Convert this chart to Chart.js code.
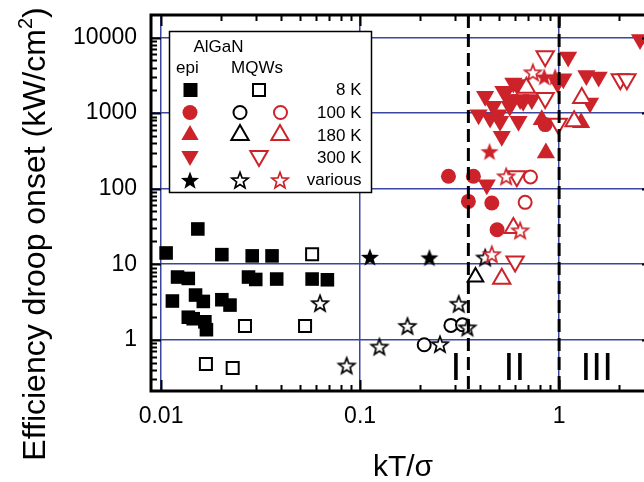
<!DOCTYPE html>
<html>
<head>
<meta charset="utf-8">
<script src="https://cdn.jsdelivr.net/npm/chart.js"></script>
<style>
  html, body { margin: 0; padding: 0; background: #fff; }
  canvas { display: block; }
</style>
</head>
<body>
<canvas id="droopChart" width="644" height="482"></canvas>
<script>
// Axis limits (kT/sigma vs droop onset)
const X_MIN = 0.0089, X_MAX = 2.67;
const Y_MIN = 0.21, Y_MAX = 19900;
const xTickValues = [0.01, 0.1, 1];
const yTickValues = [1, 10, 100, 1000, 10000];

// Regime boundaries (dashed) and the I / II / III labels
const boundaryX = [0.35, 1];
const regionLabels = ['I', 'II', 'III'];
const regionLabelX = [0.303, 0.596, 1.545];
const regionLabelY = 0.295;

// epi, 8 K (black filled squares)
const epi8kX = [0.0153, 0.0106, 0.0202, 0.0287, 0.0361, 0.0121, 0.0137, 0.0275, 0.0299, 0.0381, 0.0574, 0.0685, 0.0149, 0.0114, 0.0163, 0.0202, 0.0222, 0.0137, 0.0145, 0.0166, 0.0169];
const epi8kY = [29.3, 14.1, 13.4, 12.9, 12.9, 6.77, 6.49, 6.77, 6.29, 6.37, 6.37, 6.23, 3.91, 3.26, 3.22, 3.39, 2.88, 1.99, 1.90, 1.73, 1.36];
// MQWs, 8 K (black open squares)
const mqw8kX = [0.0574, 0.0264, 0.0529, 0.0168, 0.0229];
const mqw8kY = [13.6, 1.52, 1.52, 0.477, 0.422];
// MQWs 100 K / 180 K, black column
const mqw100kBlackX = [0.210, 0.286, 0.327];
const mqw100kBlackY = [0.86, 1.55, 1.58];
const mqw180kBlackX = [0.380];
const mqw180kBlackY = [6.77];
// various temperatures, black
const mqwVariousBlackX = [0.0629, 0.0856, 0.125, 0.173, 0.252, 0.313, 0.346, 0.425];
const mqwVariousBlackY = [3.06, 0.457, 0.815, 1.53, 0.877, 3.0, 1.46, 12.3];
const epiVariousBlackX = [0.112, 0.223];
const epiVariousBlackY = [12.5, 12.3];

// red series
const epi100kX = [0.278, 0.371, 0.350, 0.459, 0.488, 0.851];
const epi100kY = [146, 146, 67.9, 64.6, 28.6, 705];
const mqw100kRedX = [0.718, 0.675];
const mqw100kRedY = [143, 65.9];
const epi180kX = [0.818, 1.29, 0.858];
const epi180kY = [820, 747, 297];
const mqw180kRedX = [0.685, 1.30, 1.19, 0.589, 0.515];
const mqw180kRedY = [2160, 1590, 779, 30.2, 6.43];
const epi300kX = [2.55, 1.11, 1.05, 0.98, 1.37, 1.58, 1.43, 0.589, 0.613, 0.525, 0.536, 0.425, 0.565, 0.637, 0.729, 0.660, 0.467, 0.565, 0.394, 0.450, 0.495, 0.505, 0.625, 0.515, 0.433];
const epi300kY = [9400, 5550, 2860, 2500, 3140, 3010, 1365, 2510, 2385, 1945, 1853, 1670, 1510, 1510, 1510, 1435, 1230, 1230, 955, 863, 955, 779, 779, 493, 113];
const mqw300kRedX = [0.851, 0.851, 2.03, 2.19, 0.99, 0.613, 0.601];
const mqw300kRedY = [5650, 1590, 2800, 2800, 726, 146, 10.9];
const epiVariousRedX = [0.447, 0.842, 0.955];
const epiVariousRedY = [312, 3040, 3040];
const mqwVariousRedX = [0.738, 0.459, 0.637, 0.542];
const mqwVariousRedY = [3470, 13.6, 28.1, 146];

const RED = '#cc2229';
const BLACK = '#000000';
const GRID_BLUE = '#3b46a0';
const FONT = '"Liberation Sans", Arial, Helvetica, sans-serif';

function pts(xs, ys) {
  return xs.map((x, i) => ({ x: x, y: ys[i] }));
}

// five-pointed star as a small canvas (Chart.js 'star' is an asterisk)
function starImage(fill, stroke, R) {
  const size = 2 * Math.ceil(R + 2);
  const c = document.createElement('canvas');
  c.width = size;
  c.height = size;
  const g = c.getContext('2d');
  g.translate(size / 2, size / 2 + R * 0.1);
  g.beginPath();
  for (let i = 0; i < 10; i++) {
    const r = i % 2 ? R * 0.42 : R;
    const a = -Math.PI / 2 + i * Math.PI / 5;
    g.lineTo(r * Math.cos(a), r * Math.sin(a));
  }
  g.closePath();
  g.fillStyle = fill;
  g.fill();
  if (stroke) {
    g.lineWidth = 1.7;
    g.strokeStyle = stroke;
    g.stroke();
  }
  return c;
}

const starBlack = starImage(BLACK, null, 9.5);
const starBlackOpen = starImage('#ffffff', BLACK, 8.5);
const starRed = starImage(RED, null, 9.5);
const starRedOpen = starImage('#ffffff', RED, 8.5);

function marker(data, style, color, filled, radius, rotation) {
  return {
    data: data,
    showLine: false,
    pointStyle: style,
    pointRadius: radius,
    pointHoverRadius: radius,
    pointRotation: rotation || 0,
    pointBackgroundColor: filled ? color : '#ffffff',
    pointBorderColor: color,
    pointBorderWidth: filled ? 0 : 2
  };
}

function boundary(xv) {
  return {
    data: [{ x: xv, y: Y_MAX }, { x: xv, y: Y_MIN }],
    showLine: true,
    borderColor: BLACK,
    borderWidth: 3,
    borderDash: [13, 6],
    pointRadius: 0,
    fill: false
  };
}

// minor + major log ticks between two limits
function logTicks(min, max) {
  const out = [];
  for (let e = -3; e <= 5; e++) {
    for (let m = 1; m < 10; m++) {
      const v = m * Math.pow(10, e);
      if (v > min * 1.02 && v < max * 0.98) out.push({ v: v, major: m === 1 });
    }
  }
  return out;
}

// no label overhang padding: the plot box is placed by hand
function fixPadding(s) {
  s.paddingTop = 0;
  s.paddingBottom = 0;
  s.paddingLeft = 0;
  s.paddingRight = 0;
}

function drawLegendMarker(ctx, kind, cx, cy, color, filled) {
  ctx.save();
  ctx.fillStyle = filled ? color : '#ffffff';
  ctx.strokeStyle = color;
  ctx.lineWidth = 2;
  ctx.beginPath();
  if (kind === 'rect') {
    const h = filled ? 7 : 6;
    ctx.rect(cx - h, cy - h, 2 * h, 2 * h);
  } else if (kind === 'circle') {
    ctx.arc(cx, cy, filled ? 7.5 : 6.5, 0, Math.PI * 2);
  } else if (kind === 'tri' || kind === 'invtri') {
    const r = 10, s = kind === 'tri' ? 1 : -1;
    ctx.moveTo(cx, cy - s * r);
    ctx.lineTo(cx + r * 0.866, cy + s * r / 2);
    ctx.lineTo(cx - r * 0.866, cy + s * r / 2);
    ctx.closePath();
  } else if (kind === 'star') {
    const img = color === RED ? (filled ? starRed : starRedOpen) : (filled ? starBlack : starBlackOpen);
    ctx.drawImage(img, cx - img.width / 2, cy - img.height / 2);
    ctx.restore();
    return;
  }
  ctx.fill();
  if (!filled) ctx.stroke();
  ctx.restore();
}

const framePlugin = {
  id: 'frame',
  afterDatasetsDraw(chart) {
    const ctx = chart.ctx;
    const a = chart.chartArea;
    const xs = chart.scales.x, ys = chart.scales.y;
    const rightEdge = 652;
    ctx.save();

    // regime labels
    ctx.fillStyle = BLACK;
    ctx.font = '39px ' + FONT;
    ctx.textAlign = 'center';
    ctx.textBaseline = 'alphabetic';
    regionLabels.forEach((t, i) => {
      ctx.fillText(t, xs.getPixelForValue(regionLabelX[i]), ys.getPixelForValue(regionLabelY));
    });

    // frame
    ctx.strokeStyle = BLACK;
    ctx.lineWidth = 3;
    ctx.beginPath();
    ctx.moveTo(rightEdge, a.top);
    ctx.lineTo(a.left, a.top);
    ctx.lineTo(a.left, a.bottom);
    ctx.lineTo(rightEdge, a.bottom);
    ctx.stroke();

    // inward ticks on all sides
    ctx.lineWidth = 2;
    ctx.beginPath();
    logTicks(X_MIN, X_MAX).forEach(t => {
      const px = Math.round(xs.getPixelForValue(t.v)) + 0.5;
      const len = t.major ? 11 : 6;
      ctx.moveTo(px, a.bottom);
      ctx.lineTo(px, a.bottom - len);
      ctx.moveTo(px, a.top);
      ctx.lineTo(px, a.top + len);
    });
    logTicks(Y_MIN, Y_MAX).forEach(t => {
      const py = Math.round(ys.getPixelForValue(t.v)) + 0.5;
      const len = t.major ? 10 : 6;
      ctx.moveTo(a.left, py);
      ctx.lineTo(a.left + len, py);
      ctx.moveTo(rightEdge, py);
      ctx.lineTo(rightEdge - len, py);
    });
    ctx.stroke();

    // legend box
    const L = { left: 169.5, top: 31.5, right: 371.5, bottom: 192.5 };
    ctx.fillStyle = '#ffffff';
    ctx.fillRect(L.left, L.top, L.right - L.left, L.bottom - L.top);
    ctx.lineWidth = 1.5;
    ctx.strokeStyle = BLACK;
    ctx.strokeRect(L.left, L.top, L.right - L.left, L.bottom - L.top);

    ctx.fillStyle = BLACK;
    ctx.font = '17px ' + FONT;
    ctx.textAlign = 'center';
    ctx.fillText('AlGaN', 218.5, 52);
    ctx.textAlign = 'left';
    ctx.fillText('epi', 176, 73);
    ctx.fillText('MQWs', 231, 73);
    ctx.textAlign = 'right';
    const rowLabels = ['8 K', '100 K', '180 K', '300 K', 'various'];
    const rowBase = [95, 118, 141, 163, 185];
    rowLabels.forEach((t, i) => ctx.fillText(t, 361.5, rowBase[i]));

    drawLegendMarker(ctx, 'rect', 190.5, 90, BLACK, true);
    drawLegendMarker(ctx, 'rect', 259, 90, BLACK, false);
    drawLegendMarker(ctx, 'circle', 190, 112.5, RED, true);
    drawLegendMarker(ctx, 'circle', 240, 112.5, BLACK, false);
    drawLegendMarker(ctx, 'circle', 280.5, 112.5, RED, false);
    drawLegendMarker(ctx, 'tri', 190, 135, RED, true);
    drawLegendMarker(ctx, 'tri', 240, 135, BLACK, false);
    drawLegendMarker(ctx, 'tri', 280, 135, RED, false);
    drawLegendMarker(ctx, 'invtri', 190, 156, RED, true);
    drawLegendMarker(ctx, 'invtri', 259, 156, RED, false);
    drawLegendMarker(ctx, 'star', 190, 180, BLACK, true);
    drawLegendMarker(ctx, 'star', 240, 180, BLACK, false);
    drawLegendMarker(ctx, 'star', 280, 180, RED, false);

    // axis titles
    ctx.fillStyle = BLACK;
    ctx.font = '30px ' + FONT;
    ctx.textAlign = 'center';
    ctx.fillText('kT/\u03c3', 403, 476);

    const main = 'Efficiency droop onset (kW/cm';
    ctx.font = '32px ' + FONT;
    const wMain = ctx.measureText(main).width;
    const wClose = ctx.measureText(')').width;
    ctx.font = '20px ' + FONT;
    const wSup = ctx.measureText('2').width;
    const total = wMain + wSup + wClose;
    ctx.translate(45, 234);
    ctx.rotate(-Math.PI / 2);
    ctx.textAlign = 'left';
    ctx.font = '32px ' + FONT;
    ctx.fillText(main, -total / 2, 0);
    ctx.font = '20px ' + FONT;
    ctx.fillText('2', -total / 2 + wMain, -13);
    ctx.font = '32px ' + FONT;
    ctx.fillText(')', -total / 2 + wMain + wSup, 0);
    ctx.restore();
  }
};

const ctx = document.getElementById('droopChart').getContext('2d');
const droopChart = new Chart(ctx, {
  type: 'scatter',
  data: {
    datasets: [
      boundary(boundaryX[0]),
      boundary(boundaryX[1]),
      marker(pts(mqwVariousRedX, mqwVariousRedY), starRedOpen, RED, false, 9),
      marker(pts(mqw300kRedX, mqw300kRedY), 'triangle', RED, false, 10, 180),
      marker(pts(mqw180kRedX, mqw180kRedY), 'triangle', RED, false, 10),
      marker(pts(mqw100kRedX, mqw100kRedY), 'circle', RED, false, 6.5),
      marker(pts(mqwVariousBlackX, mqwVariousBlackY), starBlackOpen, BLACK, false, 9),
      marker(pts(mqw180kBlackX, mqw180kBlackY), 'triangle', BLACK, false, 9),
      marker(pts(mqw100kBlackX, mqw100kBlackY), 'circle', BLACK, false, 6.5),
      marker(pts(mqw8kX, mqw8kY), 'rect', BLACK, false, 8.5),
      marker(pts(epiVariousRedX, epiVariousRedY), starRed, RED, true, 9),
      marker(pts(epiVariousBlackX, epiVariousBlackY), starBlack, BLACK, true, 9),
      marker(pts(epi180kX, epi180kY), 'triangle', RED, true, 10.5),
      marker(pts(epi100kX, epi100kY), 'circle', RED, true, 7.5),
      marker(pts(epi300kX, epi300kY), 'triangle', RED, true, 10.5, 180),
      marker(pts(epi8kX, epi8kY), 'rect', BLACK, true, 9.6)
    ]
  },
  options: {
    responsive: false,
    devicePixelRatio: 1,
    animation: false,
    events: [],
    layout: { autoPadding: false, padding: { top: 15, right: 0, bottom: 0, left: 0 } },
    scales: {
      x: {
        type: 'logarithmic',
        min: X_MIN,
        max: X_MAX,
        bounds: 'data',
        afterBuildTicks: s => { s.ticks = xTickValues.map(v => ({ value: v })); },
        afterFit: s => { s.height = 91; fixPadding(s); },
        ticks: {
          callback: v => String(v),
          color: BLACK,
          font: { family: FONT, size: 23 },
          padding: 12,
          maxRotation: 0,
          autoSkip: false
        },
        grid: { color: GRID_BLUE, lineWidth: 1.5, drawTicks: false },
        border: { display: false }
      },
      y: {
        type: 'logarithmic',
        min: Y_MIN,
        max: Y_MAX,
        bounds: 'data',
        afterBuildTicks: s => { s.ticks = yTickValues.map(v => ({ value: v })); },
        afterFit: s => { s.width = 151; fixPadding(s); },
        ticks: {
          callback: v => String(v),
          color: BLACK,
          font: { family: FONT, size: 23 },
          padding: 14,
          autoSkip: false
        },
        grid: { color: GRID_BLUE, lineWidth: 1.5, drawTicks: false },
        border: { display: false }
      }
    },
    plugins: {
      legend: { display: false },
      tooltip: { enabled: false }
    }
  },
  plugins: [framePlugin]
});
</script>
</body>
</html>
